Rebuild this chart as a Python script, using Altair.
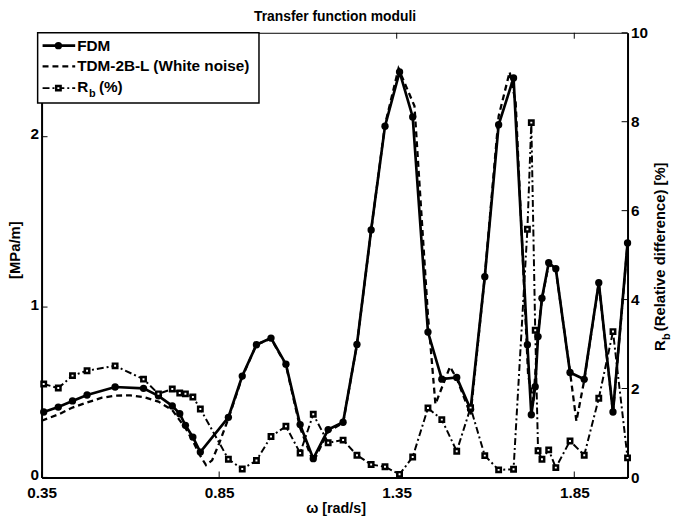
import altair as alt
import pandas as pd

# ---------------- data ----------------
omega = [0.356, 0.397, 0.437, 0.478, 0.557, 0.637, 0.679, 0.718, 0.739, 0.755,
         0.776, 0.797, 0.876, 0.915, 0.955, 0.996, 1.038, 1.078, 1.115, 1.157,
         1.199, 1.238, 1.278, 1.317, 1.358, 1.395, 1.438, 1.477, 1.519, 1.558,
         1.598, 1.637, 1.679, 1.718, 1.729, 1.740, 1.748, 1.759, 1.778, 1.798,
         1.838, 1.878, 1.919, 1.959, 2.000]
fdm = [0.384, 0.413, 0.449, 0.484, 0.531, 0.523, 0.479, 0.420, 0.374, 0.306,
       0.237, 0.149, 0.353, 0.595, 0.779, 0.818, 0.665, 0.310, 0.110, 0.281,
       0.324, 0.781, 1.453, 2.062, 2.380, 2.116, 0.853, 0.577, 0.587, 0.400,
       1.178, 2.070, 2.345, 0.779, 0.368, 0.533, 0.827, 1.052, 1.260, 1.225,
       0.616, 0.576, 1.143, 0.384, 1.376]
rb = [2.10, 2.01, 2.29, 2.40, 2.51, 2.21, 1.88, 1.99, 1.90, 1.88,
      1.81, 1.54, 0.41, 0.19, 0.38, 0.92, 1.15, 0.55, 1.42, 0.78,
      0.84, 0.50, 0.29, 0.24, 0.07, 0.46, 1.56, 1.30, 0.59, 1.57,
      0.49, 0.17, 0.185, 5.58, 7.98, 3.31, 0.60, 0.41, 0.62, 0.22,
      0.82, 0.50, 1.78, 3.28, 0.44]
omega_tdm = [0.35, 0.40, 0.437, 0.478, 0.52, 0.557, 0.60, 0.637, 0.679, 0.718,
             0.755, 0.776, 0.797, 0.813, 0.83, 0.85, 0.876, 0.915, 0.955, 0.996,
             1.038, 1.078, 1.115, 1.157, 1.199, 1.238, 1.278, 1.317, 1.355, 1.40,
             1.438, 1.459, 1.50, 1.519, 1.558, 1.598, 1.637, 1.668, 1.685, 1.72,
             1.735, 1.748, 1.759, 1.778, 1.798, 1.838, 1.856, 1.878, 1.919, 1.959,
             2.0]
tdm = [0.333, 0.372, 0.410, 0.440, 0.468, 0.480, 0.482, 0.472, 0.445, 0.395,
       0.29, 0.213, 0.126, 0.072, 0.10, 0.20, 0.345, 0.59, 0.78, 0.815,
       0.66, 0.29, 0.09, 0.27, 0.32, 0.78, 1.45, 2.07, 2.40, 2.18,
       0.95, 0.43, 0.65, 0.58, 0.37, 1.18, 2.12, 2.38, 2.2, 0.6,
       0.45, 0.85, 1.05, 1.25, 1.22, 0.62, 0.33, 0.57, 1.14, 0.38,
       1.37]
x_ticks = [0.35, 0.85, 1.35, 1.85]
left_ticks = [0, 1, 2]
right_ticks = [0, 2, 4, 6, 8, 10]

# ---------------- tables ----------------
main_df = pd.DataFrame({"omega": omega, "fdm": fdm, "rb": rb})
tdm_df = pd.DataFrame({"omega": omega_tdm, "tdm": tdm})
xt_df = pd.DataFrame({"v": x_ticks})
lt_df = pd.DataFrame({"v": left_ticks})
rt_df = pd.DataFrame({"v": right_ticks})
one = pd.DataFrame({"k": [0]})

W, H = 593, 450
FONT = "Liberation Sans"
LBL = 15.5
DASH = [6, 4]
DASHDOT = [7, 3, 2, 3]

xs = alt.Scale(domain=[0.35, 2.0], nice=False, zero=False)
yl = alt.Scale(domain=[0, 2.61], nice=False, zero=False)
yr = alt.Scale(domain=[0, 10], nice=False, zero=False)


def make_axis(values, fmt, orient, pad, offset=0):
    return alt.Axis(values=values, format=fmt, orient=orient, labelPadding=pad,
                    labelOffset=offset,
                    ticks=False, grid=False, domain=True, domainColor="black",
                    domainWidth=2, labelFont=FONT, labelFontSize=LBL,
                    labelFontWeight="bold", labelColor="black", labelFlush=False,
                    title="")


x_axis = make_axis(x_ticks, ".2f", "bottom", 8)
yl_axis = make_axis(left_ticks, "d", "left", 3, -3)
yr_axis = make_axis(right_ticks, "d", "right", 3)

# ---------- data marks ----------
tdm_line = alt.Chart(tdm_df).mark_line(color="black", strokeWidth=2.3, strokeDash=DASH).encode(
    x=alt.X("omega:Q", scale=xs, axis=x_axis),
    y=alt.Y("tdm:Q", scale=yl, axis=yl_axis))
fdm_line = alt.Chart(main_df).mark_line(color="black", strokeWidth=2.7).encode(
    x=alt.X("omega:Q", scale=xs, axis=x_axis),
    y=alt.Y("fdm:Q", scale=yl, axis=None))
fdm_pts = alt.Chart(main_df).mark_point(shape="circle", filled=True, color="black", size=55, opacity=1).encode(
    x=alt.X("omega:Q", scale=xs, axis=x_axis),
    y=alt.Y("fdm:Q", scale=yl, axis=None))
rb_line = alt.Chart(main_df).mark_line(color="black", strokeWidth=2, strokeDash=DASHDOT).encode(
    x=alt.X("omega:Q", scale=xs, axis=x_axis),
    y=alt.Y("rb:Q", scale=yr, axis=yr_axis))
rb_pts = alt.Chart(main_df).mark_point(shape="square", filled=True, fill="white", stroke="black",
                                       strokeWidth=2.5, size=20, opacity=1).encode(
    x=alt.X("omega:Q", scale=xs, axis=x_axis),
    y=alt.Y("rb:Q", scale=yr, axis=None))

# ---------- inward tick marks ----------
xt_bot = alt.Chart(xt_df).mark_rule(color="black", strokeWidth=1).encode(
    x=alt.X("v:Q", scale=xs, axis=x_axis), y=alt.value(H), y2=alt.value(H - 6))
xt_top = alt.Chart(xt_df).mark_rule(color="black", strokeWidth=1).encode(
    x=alt.X("v:Q", scale=xs, axis=x_axis), y=alt.value(0), y2=alt.value(6))
yt_left = alt.Chart(lt_df).mark_rule(color="black", strokeWidth=1).encode(
    y=alt.Y("v:Q", scale=yl, axis=None), x=alt.value(0), x2=alt.value(6))
yt_right = alt.Chart(rt_df).mark_rule(color="black", strokeWidth=1).encode(
    y=alt.Y("v:Q", scale=yr, axis=None), x=alt.value(W), x2=alt.value(W - 6))


# ---------- annotations ----------
def txt(s, x, y, size, angle=0, align="left", baseline="middle"):
    kw = dict(text=s, fontSize=size, font=FONT, fontWeight="bold", align=align,
              baseline=baseline, color="black")
    if angle:
        kw["angle"] = angle
    return alt.Chart(one).mark_text(**kw).encode(x=alt.value(x), y=alt.value(y))


title_t = txt("Transfer function moduli", 297, -12, 14, align="center", baseline="alphabetic")
xtitle = txt("ω [rad/s]", 298, 482, 14.5, align="center")
ytitle_l = txt("[MPa/m]", -27, 220, 15, angle=270, align="center")
ytitle_r = [
    txt("R", 626, 322, 15, angle=270),
    txt("b", 633, 311, 11, angle=270),
    txt("(Relative difference) [%]", 626, 302, 15, angle=270),
]

leg_box = alt.Chart(one).mark_rect(fill="white", stroke="black", strokeWidth=1.5).encode(
    x=alt.value(-4), x2=alt.value(220), y=alt.value(0), y2=alt.value(71))
leg_l1 = alt.Chart(one).mark_rule(color="black", strokeWidth=2.7).encode(
    x=alt.value(1), x2=alt.value(34), y=alt.value(13))
leg_p1 = alt.Chart(one).mark_point(shape="circle", filled=True, color="black", size=55, opacity=1).encode(
    x=alt.value(17), y=alt.value(13))
leg_l2 = alt.Chart(one).mark_rule(color="black", strokeWidth=2.3, strokeDash=DASH).encode(
    x=alt.value(1), x2=alt.value(34), y=alt.value(34))
leg_l3 = alt.Chart(one).mark_rule(color="black", strokeWidth=2, strokeDash=DASHDOT).encode(
    x=alt.value(1), x2=alt.value(34), y=alt.value(56))
leg_p3 = alt.Chart(one).mark_point(shape="square", filled=True, fill="white", stroke="black",
                                   strokeWidth=2.5, size=20, opacity=1).encode(
    x=alt.value(17), y=alt.value(56))
leg_texts = [
    txt("FDM", 36, 13, LBL),
    txt("TDM-2B-L (White noise)", 36, 34, LBL),
    txt("R", 36, 55, LBL),
    txt("b", 48, 62, 11),
    txt("(%)", 58, 55, LBL),
]

chart = alt.layer(
    tdm_line, fdm_line, fdm_pts, rb_line, rb_pts,
    xt_bot, xt_top, yt_left, yt_right,
    leg_box, leg_l1, leg_p1, leg_l2, leg_l3, leg_p3, *leg_texts,
    title_t, xtitle, ytitle_l, *ytitle_r,
).resolve_scale(y="independent").properties(
    width=W, height=H,
    autosize=alt.AutoSizeParams(type="none"),
    padding={"left": 34, "top": 22, "right": 46, "bottom": 40},
).configure_view(stroke="black", strokeWidth=1)

chart.save("out.html", embed_options={"renderer": "svg", "actions": False})
